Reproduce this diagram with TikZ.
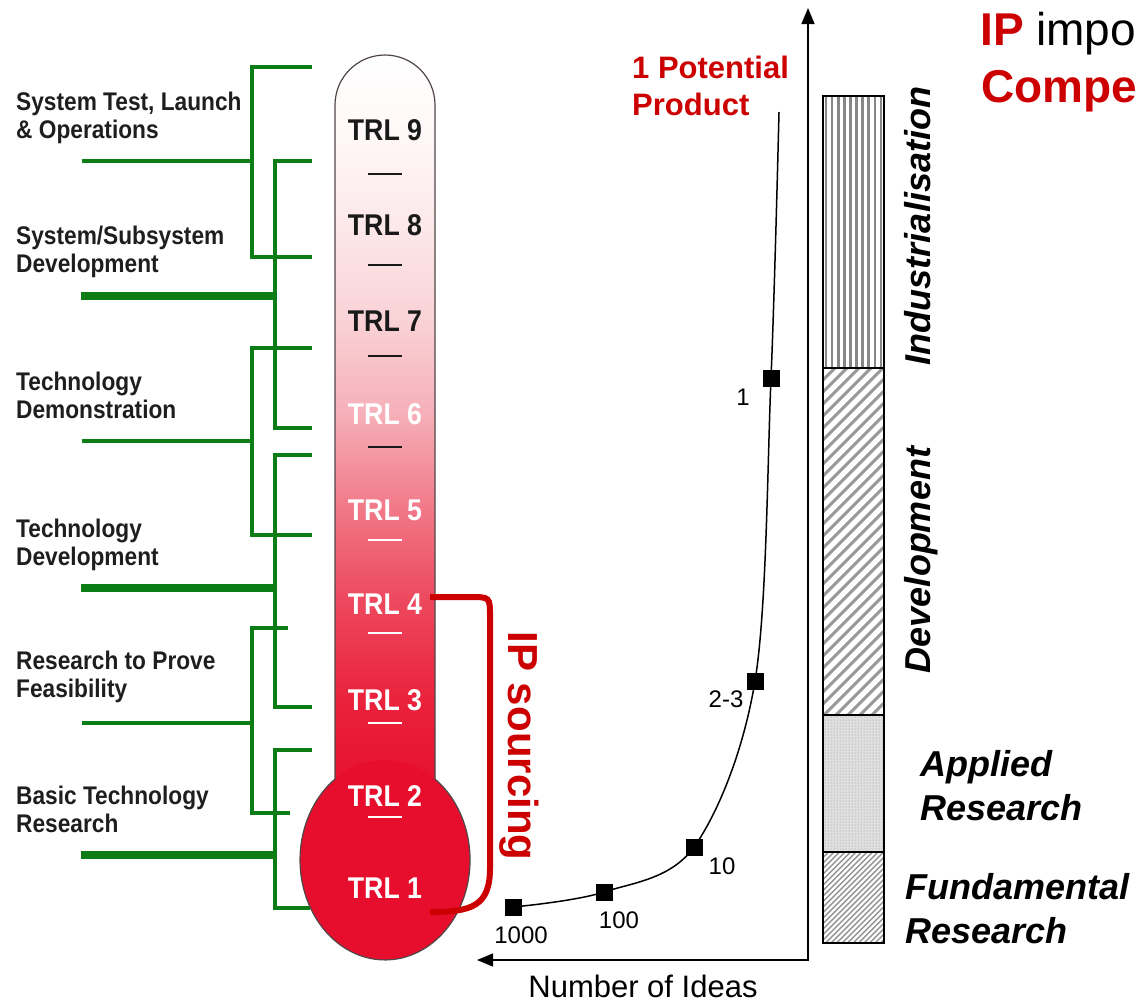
\documentclass[tikz,border=0pt]{standalone}
\usepackage{fontspec}
\setmainfont{Liberation Sans}
\newfontfamily\narrowsf[FakeStretch=0.89]{Liberation Sans}
\usetikzlibrary{arrows.meta,patterns}
\definecolor{grn}{RGB}{12,124,20}
\definecolor{ipred}{RGB}{204,0,0}
\definecolor{bulbred}{RGB}{230,14,44}
\definecolor{tA}{RGB}{234,34,60}
\definecolor{tB}{RGB}{237,72,94}
\definecolor{tC}{RGB}{241,120,135}
\definecolor{tD}{RGB}{246,175,184}
\definecolor{tE}{RGB}{249,210,214}
\definecolor{tF}{RGB}{252,232,234}
\definecolor{tG}{RGB}{255,248,248}
\definecolor{outl}{RGB}{80,70,72}
\definecolor{stripe}{RGB}{135,135,135}
\definecolor{lbltext}{RGB}{30,30,30}
\pgfdeclareverticalshading{thermo}{100bp}{color(0bp)=(bulbred); color(25bp)=(bulbred); color(31.7bp)=(tA); color(38.4bp)=(tB); color(44.5bp)=(tC); color(50.9bp)=(tD); color(57.1bp)=(tE); color(63.6bp)=(tF); color(70bp)=(tG); color(75bp)=(white); color(100bp)=(white)}
\begin{document}
\begin{tikzpicture}[x=1pt,y=-1pt,
  grnthin/.style={grn, line width=4.5},
  grnthick/.style={grn, line width=7.5},
  lbl/.style={anchor=north west, inner sep=0, align=left, text=lbltext,
    font=\narrowsf\bfseries\fontsize{25.5}{28}\selectfont},
  trl/.style={inner sep=0, font=\narrowsf\bfseries\fontsize{30}{31}\selectfont},
  tickdash/.style={line width=2.6},
  ideasq/.style={fill=black, minimum size=17, inner sep=0},
  num/.style={inner sep=0, font=\fontsize{24}{26}\selectfont},
  phase/.style={inner sep=0, font=\bfseries\itshape\fontsize{36}{44}\selectfont},
  axisarrow/.style={line width=1.5, {Triangle[length=16pt,width=13pt]}-{Triangle[length=16pt,width=13pt]}}
]
\useasboundingbox (0,0) rectangle (1139,1005);
\clip (0,0) rectangle (1139,1005);

% ---------- green tree ----------
\draw[grnthin] (312,67) -- (252,67) -- (252,257) -- (312,257);
\draw[grnthin] (82,161) -- (252,161);
\draw[grnthin] (312,161) -- (275,161) -- (275,428) -- (312,428);
\draw[grnthick] (81,296) -- (275,296);
\draw[grnthin] (312,348) -- (252,348) -- (252,535) -- (312,535);
\draw[grnthin] (82,441) -- (252,441);
\draw[grnthin] (312,455) -- (275,455) -- (275,707) -- (312,707);
\draw[grnthick] (81,588) -- (275,588);
\draw[grnthin] (288,628) -- (252,628) -- (252,813) -- (290,813);
\draw[grnthin] (82,723) -- (252,723);
\draw[grnthin] (312,750) -- (275,750) -- (275,908) -- (310,908);
\draw[grnthick] (81,855) -- (275,855);

% ---------- labels ----------
\node[lbl] (l1) at (16,92) {System Test, Launch\\\& Operations};
\node[lbl] (l2) at (16,226) {System/Subsystem\\Development};
\node[lbl] (l3) at (16,372) {Technology\\Demonstration};
\node[lbl] (l4) at (16,519) {Technology\\Development};
\node[lbl] (l5) at (16,651) {Research to Prove\\Feasibility};
\node[lbl] (l6) at (16,786) {Basic Technology\\Research};

% ---------- thermometer ----------
\shade[shading=thermo] (335,800) -- (335,105) arc[start angle=180,end angle=360,radius=50] -- (435,800) -- cycle;
\fill[bulbred] (385,860) ellipse[x radius=85, y radius=100];
\draw[outl, line width=1.2] (335,779) -- (335,105) arc[start angle=180,end angle=360,radius=50]
  -- (435,779) arc[start angle=-54,end angle=234,x radius=85,y radius=100];

\node[trl, text=black!90] (trl9) at (385,130) {TRL 9};
\node[trl, text=black!90] (trl8) at (385,225) {TRL 8};
\node[trl, text=black!90] (trl7) at (385,321) {TRL 7};
\node[trl, text=white] (trl6) at (385,414) {TRL 6};
\node[trl, text=white] (trl5) at (385,510) {TRL 5};
\node[trl, text=white] (trl4) at (385,604) {TRL 4};
\node[trl, text=white] (trl3) at (385,700) {TRL 3};
\node[trl, text=white] (trl2) at (385,796) {TRL 2};
\node[trl, text=white] (trl1) at (385,888) {TRL 1};
\foreach \yy in {174,265,356,447} \draw[tickdash, black!90] (368,\yy) -- (402,\yy);
\foreach \yy in {540,633,723,817} \draw[tickdash, white] (368,\yy) -- (402,\yy);

% ---------- IP sourcing bracket ----------
\coordinate (ipa) at (430,597);
\coordinate (ipb) at (430,912);
\draw[ipred, line width=6] (ipa) -- (470,597) .. controls (490,597) and (490,597) .. (490,617)
  -- (490,868) .. controls (490,906) and (472,912) .. (ipb);
\node[ipred, rotate=-90, anchor=base, inner sep=0, font=\bfseries\fontsize{42}{44}\selectfont] (ips) at (508,746) {IP sourcing};

% ---------- axes ----------
\coordinate (origin) at (808,960);
\coordinate (ytip) at (808,8);
\coordinate (xtip) at (477,960);
\draw[axisarrow] (ytip) -- (origin) -- (xtip);
\node[inner sep=0, font=\fontsize{31}{33}\selectfont] (xlabel) at (643,986) {Number of Ideas};

% ---------- funnel curve ----------
\node[ideasq] (p1000) at (513,907) {};
\node[ideasq] (p100) at (604,892) {};
\node[ideasq] (p10) at (694,847) {};
\node[ideasq] (p23) at (755,681) {};
\node[ideasq] (p1) at (771,378) {};
\coordinate (ptop) at (779,112);
\draw[line width=1.5] plot[smooth, tension=0.55] coordinates {(p1000) (p100) (p10) (p23) (p1) (ptop)};
\node[num] (n1000) at (521,935) {1000};
\node[num] (n100) at (619,920) {100};
\node[num] (n10) at (722,866) {10};
\node[num] (n23) at (726,699) {2-3};
\node[num] (n1) at (743,397) {1};
\node[anchor=north west, inner sep=0, align=left, text=ipred, font=\bfseries\fontsize{31}{37}\selectfont] (pp) at (632,56) {1 Potential\\Product};

% ---------- phase bar ----------
\begin{scope}
  \clip (823,96) rectangle (884,368);
  \foreach \xx in {826,832.1,...,884} \draw[stripe, line width=2.6] (\xx,96) -- (\xx,368);
\end{scope}
\begin{scope}
  \clip (823,368) rectangle (884,715);
  \foreach \yy in {368,380,...,790} \draw[stripe!85, line width=3] (823,\yy) -- ++(61,-61);
\end{scope}
\fill[black!12] (823,715) rectangle (884,852);
\fill[pattern=dots, pattern color=black!45] (823,715) rectangle (884,852);
\begin{scope}
  \clip (823,852) rectangle (884,943);
  \foreach \yy in {852,857.5,...,1010} \draw[stripe!90, line width=1.4] (823,\yy) -- ++(61,-61);
\end{scope}
\draw[line width=1.8] (823,96) rectangle (884,943);
\draw[line width=1.8] (823,368) -- (884,368);
\draw[line width=1.8] (823,715) -- (884,715);
\draw[line width=1.8] (823,852) -- (884,852);

\node[phase, rotate=90, anchor=base] (ind) at (930,226) {Industrialisation};
\node[phase, rotate=90, anchor=base] (dev) at (930,560) {Development};
\node[phase, anchor=north west, align=left] (app) at (920,750) {Applied\\Research};
\node[phase, anchor=north west, align=left] (fun) at (905,873) {Fundamental\\Research};

% ---------- title (cut off at the right edge) ----------
\node[anchor=base west, inner sep=0, font=\fontsize{46}{48}\selectfont] (t1) at (980,45) {\textcolor{ipred}{\bfseries IP} impo};
\node[anchor=base west, inner sep=0, text=ipred, font=\bfseries\fontsize{46}{48}\selectfont] (t2) at (981,102) {Compe};
\end{tikzpicture}
\end{document}
